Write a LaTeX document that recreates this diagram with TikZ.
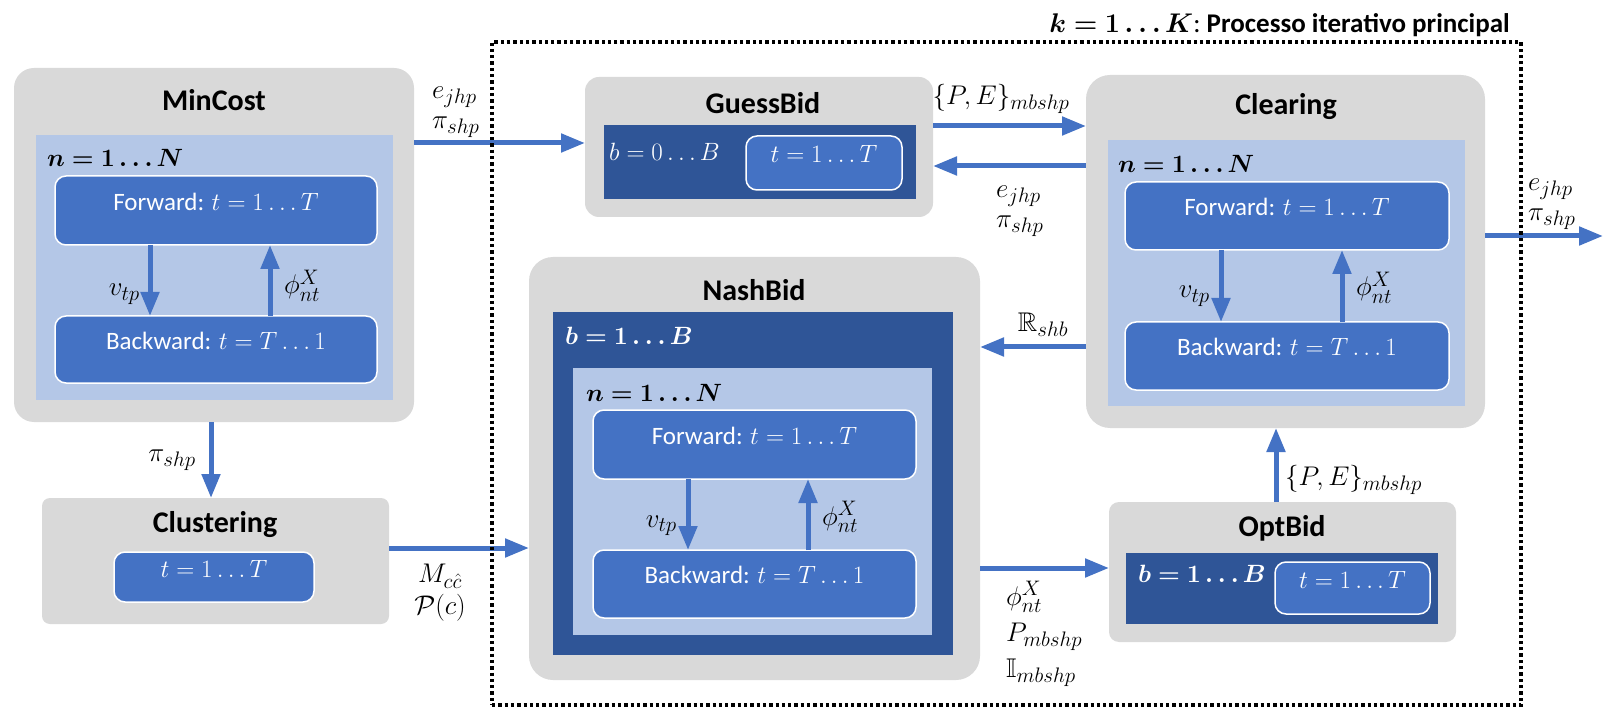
\RequirePackage{fix-cm}
\documentclass[tikz,border=0pt]{standalone}
\usepackage{amsmath,amssymb,bm}
\usepackage{fontspec}
\setmainfont{Carlito}
\usetikzlibrary{arrows.meta,fit}
\definecolor{cgray}{HTML}{D9D9D9}
\definecolor{clight}{HTML}{B4C7E7}
\definecolor{cmid}{HTML}{4472C4}
\definecolor{cdark}{HTML}{2F5597}
\DeclareMathSizes{27}{27}{21}{16}
\newcommand\bodyfs{\fontsize{25}{29}\selectfont}
\newcommand\ttlfs{\fontsize{30}{35}\selectfont\bfseries}
\newcommand\hdrfs{\fontsize{27}{32}\selectfont}
\newcommand\lblfs[1]{\fontsize{27}{#1}\selectfont\lineskiplimit=-40pt\relax}
\begin{document}
\begin{tikzpicture}[x=1pt,y=-1pt,
  gbox/.style={fill=cgray, draw=none, inner sep=0pt, outer sep=0pt},
  lbox/.style={fill=clight, draw=none, inner sep=0pt, outer sep=0pt},
  dbox/.style={fill=cdark, draw=none, inner sep=0pt, outer sep=0pt},
  sbox/.style={fill=cmid, draw=white, line width=1.5pt, rounded corners=11pt, inner sep=0pt, outer sep=0pt, text=white, font=\bodyfs},
  ttl/.style={font=\ttlfs, inner sep=0pt},
  lbl/.style={font=\lblfs{30}, inner sep=0pt},
  blbl/.style={font=\bodyfs, inner sep=0pt},
  wlbl/.style={font=\bodyfs, inner sep=0pt, text=white},
  arr/.style={draw=cmid, line width=5pt, -{Triangle[length=24pt,width=18pt]}},
  iterframe/.style={draw=black, line width=4pt, dash pattern=on 3.3pt off 3pt, inner sep=0pt, fill=none}
]
\useasboundingbox (0,0) rectangle (1603,708);

% ---------- MinCost ----------
\node[gbox, rounded corners=20pt, fit={(14,68) (414,422)}] (mincost) {};
\node[ttl] (mincostT) at (214,100) {MinCost};
\node[lbox, fit={(36,135) (393,400)}] (mincostL) {};
\node[blbl, anchor=west] (mincostN) at (47,158) {$\bm{n = 1 \ldots N}$};
\node[sbox, fit={(55,176) (377,245)}] (mcF) {Forward: $t = 1 \ldots T$};
\node[sbox, fit={(55,316) (377,383)}] (mcB) {Backward: $t = T \ldots 1$};
\coordinate (mcV) at (150,0);
\coordinate (mcP) at (270,0);
\draw[arr] (mcF.south -| mcV) -- (mcB.north -| mcV);
\draw[arr] (mcB.north -| mcP) -- (mcF.south -| mcP);
\node[lbl, anchor=base east] (mcVl) at (140,296) {$v_{tp}$};
\node[lbl, anchor=base west] (mcPl) at (284,294) {$\phi_{nt}^{X}$};

% ---------- Clustering ----------
\node[gbox, rounded corners=8pt, fit={(42,498) (389,624)}] (clust) {};
\node[ttl] (clustT) at (215,525) {Clustering};
\node[sbox, fit={(114,552) (314,602)}] (clustS) {$t = 1 \ldots T$};

% ---------- GuessBid ----------
\node[gbox, rounded corners=14pt, fit={(585,77) (933,217)}] (guess) {};
\node[ttl] (guessT) at (763,103) {GuessBid};
\node[dbox, fit={(604,125) (916,199)}] (guessD) {};
\node[wlbl, anchor=west] (guessB) at (609,152) {$b = 0 \ldots B$};
\node[sbox, fit={(746,136) (902,190)}] (guessS) {$t = 1 \ldots T$};

% ---------- Clearing ----------
\node[gbox, rounded corners=24pt, fit={(1086,75) (1485,428)}] (clear) {};
\node[ttl] (clearT) at (1286,107) {Clearing};
\node[lbox, fit={(1108,140) (1465,406)}] (clearL) {};
\node[blbl, anchor=west] (clearN) at (1118,164) {$\bm{n = 1 \ldots N}$};
\node[sbox, fit={(1125,182) (1449,250)}] (clF) {Forward: $t = 1 \ldots T$};
\node[sbox, fit={(1125,322) (1449,390)}] (clB) {Backward: $t = T \ldots 1$};
\coordinate (clV) at (1221,0);
\coordinate (clP) at (1342,0);
\draw[arr] (clF.south -| clV) -- (clB.north -| clV);
\draw[arr] (clB.north -| clP) -- (clF.south -| clP);
\node[lbl, anchor=base east] (clVl) at (1210,298) {$v_{tp}$};
\node[lbl, anchor=base west] (clPl) at (1356,296) {$\phi_{nt}^{X}$};

% ---------- NashBid ----------
\node[gbox, rounded corners=24pt, fit={(529,257) (980,680)}] (nash) {};
\node[ttl] (nashT) at (754,290) {NashBid};
\node[dbox, fit={(553,312) (953,655)}] (nashD) {};
\node[wlbl, anchor=west] (nashB) at (565,336) {$\bm{b = 1 \ldots B}$};
\node[lbox, fit={(573,368) (932,635)}] (nashL) {};
\node[blbl, anchor=west] (nashN) at (586,393) {$\bm{n = 1 \ldots N}$};
\node[sbox, fit={(593,410) (916,479)}] (naF) {Forward: $t = 1 \ldots T$};
\node[sbox, fit={(593,550) (916,618)}] (naB) {Backward: $t = T \ldots 1$};
\coordinate (naV) at (688,0);
\coordinate (naP) at (808,0);
\draw[arr] (naF.south -| naV) -- (naB.north -| naV);
\draw[arr] (naB.north -| naP) -- (naF.south -| naP);
\node[lbl, anchor=base east] (naVl) at (677,527) {$v_{tp}$};
\node[lbl, anchor=base west] (naPl) at (822,525) {$\phi_{nt}^{X}$};

% ---------- OptBid ----------
\node[gbox, rounded corners=10pt, fit={(1109,502) (1456,642)}] (opt) {};
\node[ttl] (optT) at (1282,528) {OptBid};
\node[dbox, fit={(1126,553) (1438,624)}] (optD) {};
\node[wlbl, anchor=west] (optB) at (1138,574) {$\bm{b = 1 \ldots B}$};
\node[sbox, fit={(1275,562) (1430,614)}] (optS) {$t = 1 \ldots T$};

% ---------- connectors ----------
\coordinate (yMG) at (0,143);
\coordinate (yGC) at (0,126);
\coordinate (yCG) at (0,166);
\coordinate (out) at (1603,236);
\coordinate (yCN) at (0,347);
\coordinate (xOC) at (1276,0);
\coordinate (yNO) at (0,568);
\coordinate (yKN) at (0,548);
\coordinate (xMK) at (211,0);

\draw[arr] (mincost.east |- yMG) -- (guess.west |- yMG);
\draw[arr] (guess.east |- yGC) -- (clear.west |- yGC);
\draw[arr] (clear.west |- yCG) -- (guess.east |- yCG);
\draw[arr] (clear.east |- out) -- (out);
\draw[arr] (clear.west |- yCN) -- (nash.east |- yCN);
\draw[arr] (opt.north -| xOC) -- (clear.south -| xOC);
\draw[arr] (nash.east |- yNO) -- (opt.west |- yNO);
\draw[arr] (clust.east |- yKN) -- (nash.west |- yKN);
\draw[arr] (mincost.south -| xMK) -- (clust.north -| xMK);

% ---------- connector labels ----------
\node[lbl, align=left, anchor=west] (l1) at (432,112) {$e_{jhp}$\\$\pi_{shp}$};
\node[lbl] (l2) at (1001,99) {$\{P,E\}_{mbshp}$};
\node[lbl, align=left, anchor=west] (l3) at (996,211) {$e_{jhp}$\\$\pi_{shp}$};
\node[lbl, align=left, anchor=west] (l4) at (1528,204) {$e_{jhp}$\\$\pi_{shp}$};
\node[lbl] (l5) at (1043,325) {$\mathbb{R}_{shb}$};
\node[lbl, anchor=west] (l6) at (1285,480) {$\{P,E\}_{mbshp}$};
\node[lbl, font=\lblfs{36}, align=left, anchor=west] (l7) at (1006,634) {$\phi_{nt}^{X}$\\$P_{mbshp}$\\$\mathbb{I}_{mbshp}$};
\node[lbl, font=\lblfs{32}, align=center] (l8) at (440,593) {$M_{c\hat{c}}$\\$\mathcal{P}(c)$};
\node[lbl] (l9) at (172,460) {$\pi_{shp}$};

% ---------- iterative frame ----------
\node[iterframe, fit={(492,42) (1521,705)}] (iter) {};
\node[font=\hdrfs, inner sep=0pt, anchor=east] (iterT) at (1510,25) {$\bm{k = 1 \ldots K}$:\ \textbf{Processo iterativo principal}};
\end{tikzpicture}
\end{document}
